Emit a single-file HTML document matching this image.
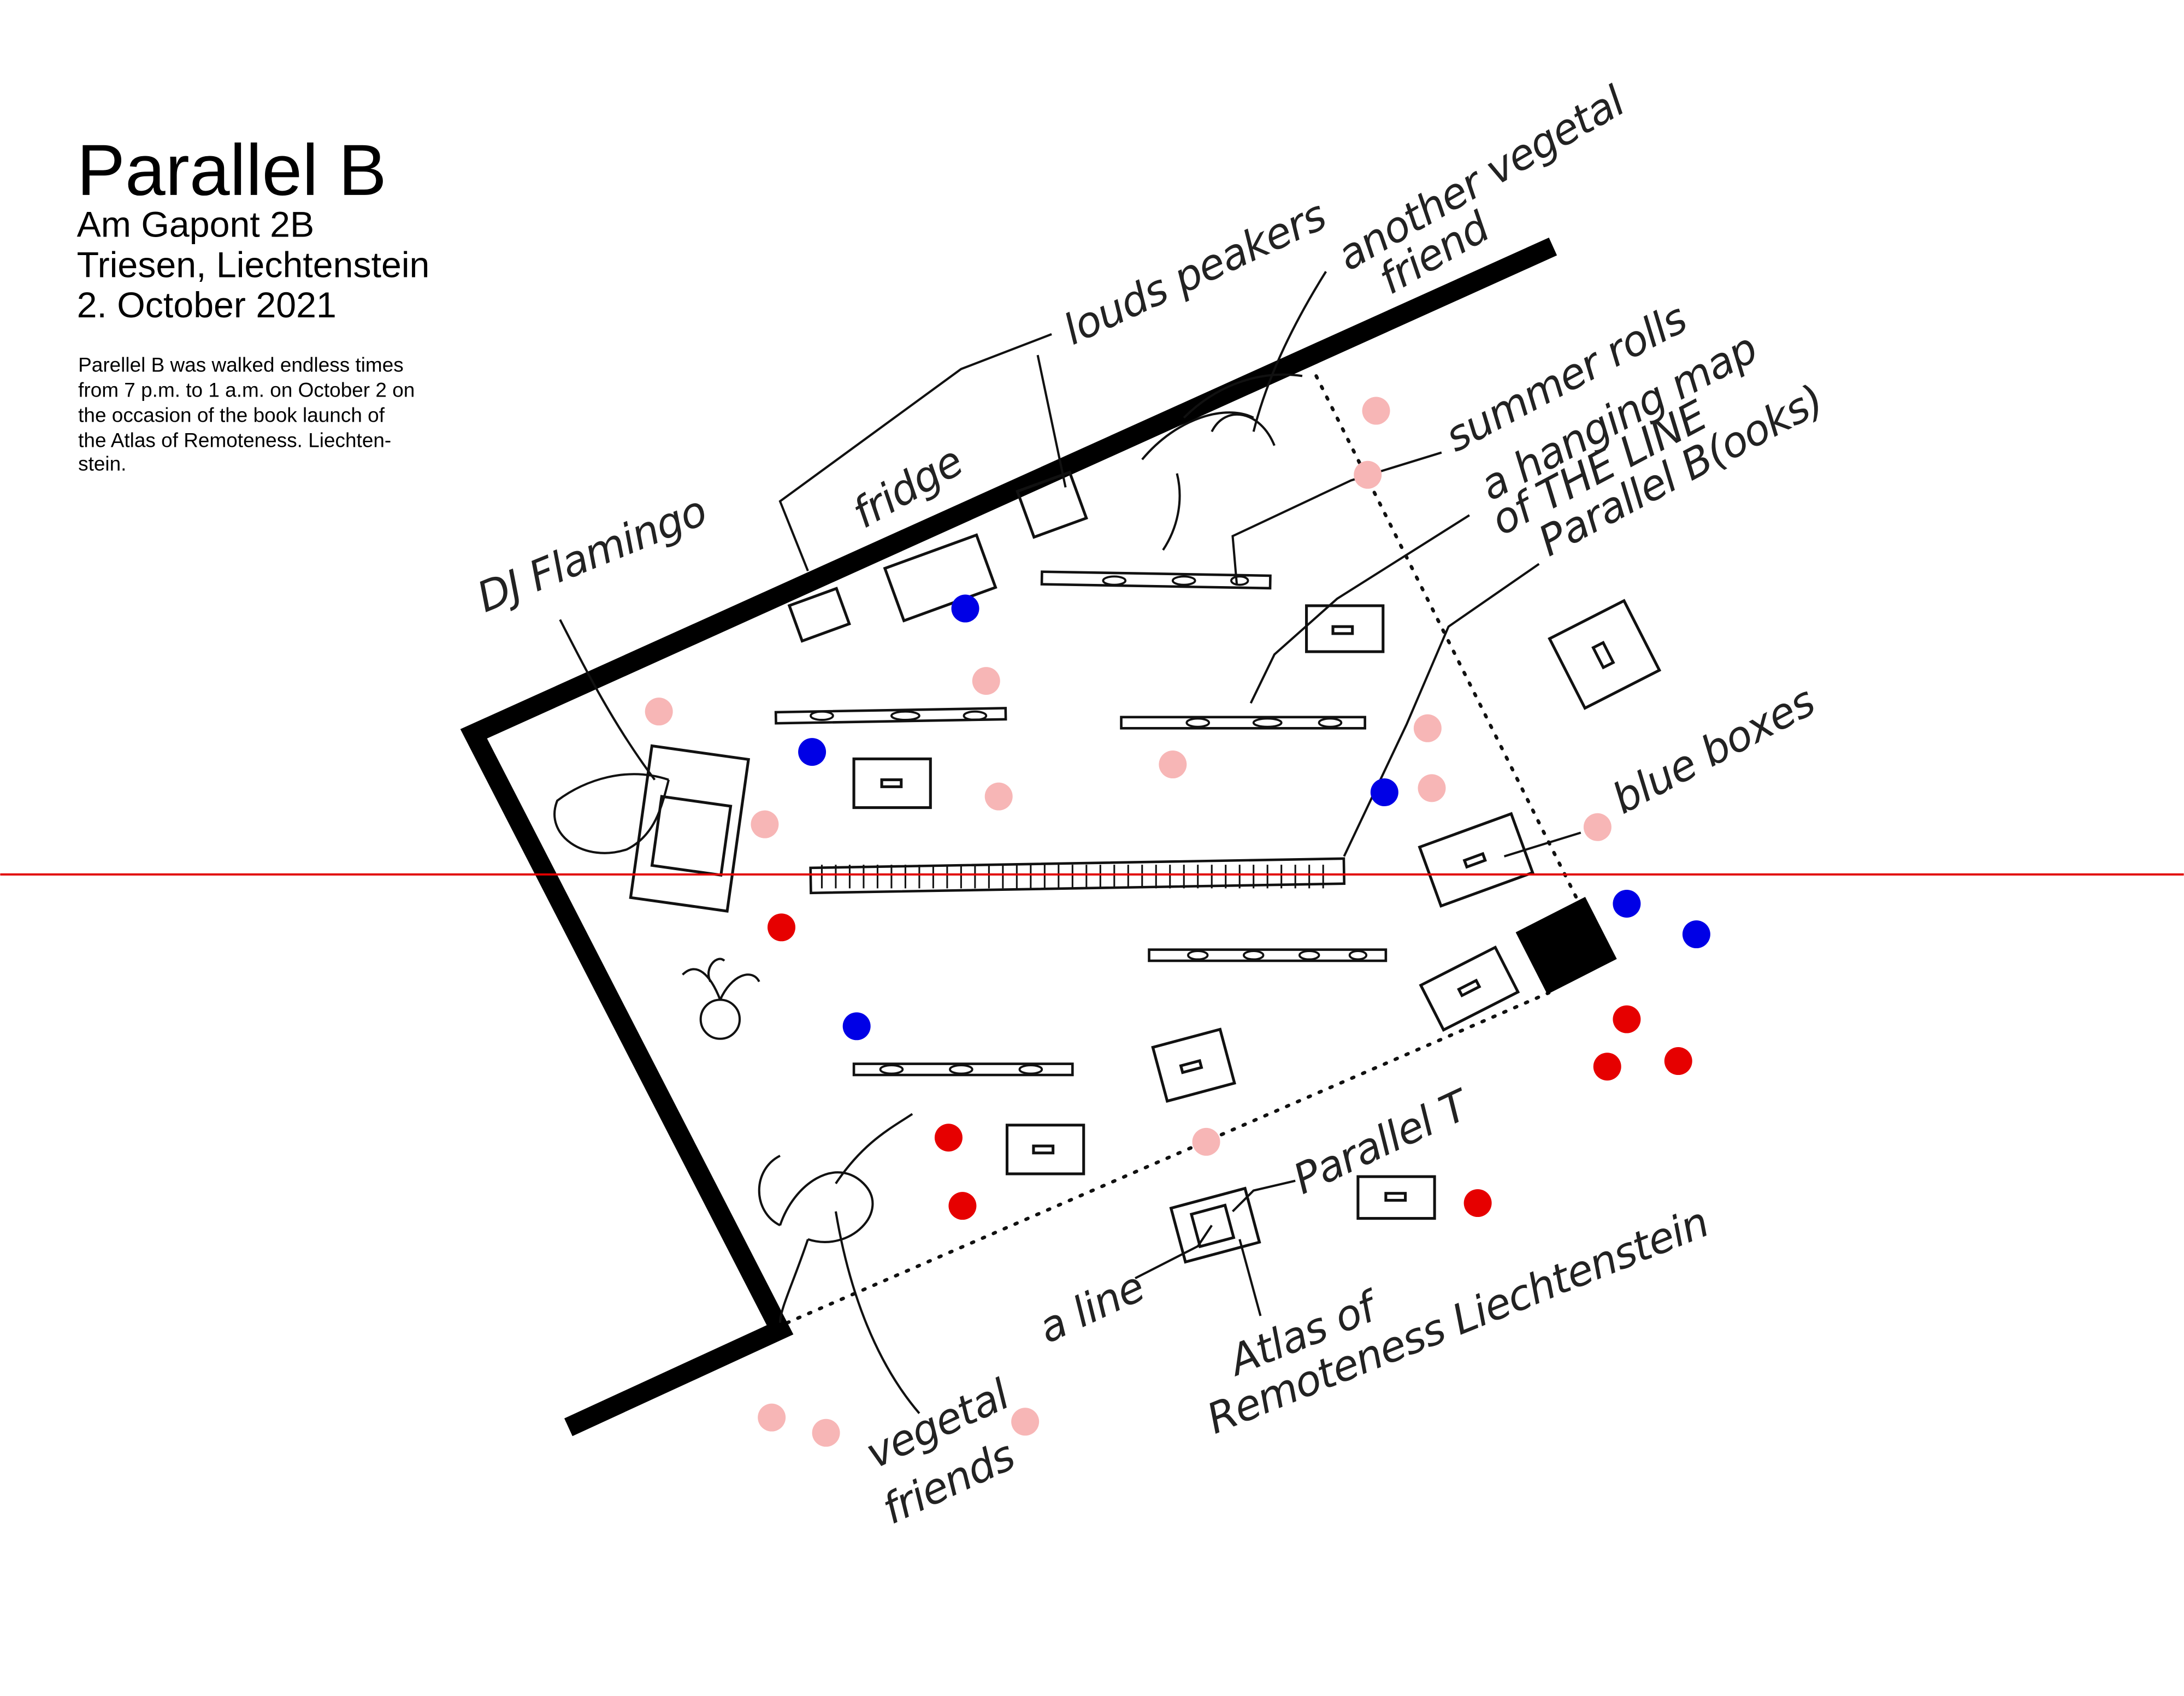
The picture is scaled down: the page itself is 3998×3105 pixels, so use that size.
<!DOCTYPE html>
<html><head><meta charset="utf-8"><style>
html,body{margin:0;padding:0;background:#fff;}
svg{display:block;}
.h{font-family:"DejaVu Sans","Liberation Sans",sans-serif;font-style:italic;fill:#222;font-size:30px;letter-spacing:-0.5px;}
</style></head><body>
<svg width="3998" height="3105" viewBox="0 0 1568 1218" xmlns="http://www.w3.org/2000/svg">
<rect width="1568" height="1218" fill="#fff"/>
<g font-family="Liberation Sans, sans-serif" fill="#000">
<text x="55" y="140" font-size="52">Parallel B</text>
<text x="55" y="170" font-size="26">Am Gapont 2B</text>
<text x="55" y="199" font-size="26">Triesen, Liechtenstein</text>
<text x="55" y="228" font-size="26">2. October 2021</text>
<g font-size="14.5">
<text x="56" y="267">Parellel B was walked endless times</text>
<text x="56" y="285">from 7 p.m. to 1 a.m. on October 2 on</text>
<text x="56" y="303">the occasion of the book launch of</text>
<text x="56" y="321">the Atlas of Remoteness. Liechten-</text>
<text x="56" y="338">stein.</text>
</g></g>

<g stroke="#111" stroke-width="2.5" stroke-dasharray="1.5 7" stroke-linecap="round" fill="none">
<line x1="945" y1="270" x2="1132" y2="645"/>
<line x1="565" y1="950" x2="1112" y2="713"/>
</g>

<polyline points="1115,177 340,527 560,955 408,1025" fill="none" stroke="#000" stroke-width="14" stroke-linejoin="miter"/>
<rect x="1097" y="654" width="56" height="50" fill="#000" transform="rotate(-27 1125 680)"/>

<g fill="none" stroke="#111" stroke-width="1.8">
<rect x="748" y="412" width="164" height="9" transform="rotate(1 830 416)"/>
<rect x="557" y="510" width="165" height="8" transform="rotate(-1 640 514)"/>
<rect x="805" y="515" width="175" height="8"/>
<rect x="582" y="620" width="383" height="18" transform="rotate(-1 770 630)"/>
<rect x="825" y="682" width="170" height="8"/>
<rect x="613" y="764" width="157" height="8"/>
</g>
<g stroke="#111" stroke-width="1.2">
<path d="M590 621 V638 M600 621 V638 M610 621 V638 M620 621 V638 M630 621 V638 M640 621 V638 M650 621 V638 M660 621 V638 M670 621 V638 M680 621 V638 M690 621 V638 M700 621 V638 M710 621 V638 M720 621 V638 M730 621 V638 M740 621 V638 M750 621 V638 M760 621 V638 M770 621 V638 M780 621 V638 M790 621 V638 M800 621 V638 M810 621 V638 M820 621 V638 M830 621 V638 M840 621 V638 M850 621 V638 M860 621 V638 M870 621 V638 M880 621 V638 M890 621 V638 M900 621 V638 M910 621 V638 M920 621 V638 M930 621 V638 M940 621 V638 M950 621 V638"/>
</g>
<g fill="none" stroke="#111" stroke-width="1.5">
<ellipse cx="800" cy="417" rx="8" ry="3"/><ellipse cx="850" cy="417" rx="8" ry="3"/><ellipse cx="890" cy="417" rx="6" ry="3"/>
<ellipse cx="590" cy="514" rx="8" ry="3"/><ellipse cx="650" cy="514" rx="10" ry="3"/><ellipse cx="700" cy="514" rx="8" ry="3"/>
<ellipse cx="860" cy="519" rx="8" ry="3"/><ellipse cx="910" cy="519" rx="10" ry="3"/><ellipse cx="955" cy="519" rx="8" ry="3"/>
<ellipse cx="860" cy="686" rx="7" ry="3"/><ellipse cx="900" cy="686" rx="7" ry="3"/><ellipse cx="940" cy="686" rx="7" ry="3"/><ellipse cx="975" cy="686" rx="6" ry="3"/>
<ellipse cx="640" cy="768" rx="8" ry="3"/><ellipse cx="690" cy="768" rx="8" ry="3"/><ellipse cx="740" cy="768" rx="8" ry="3"/>
</g>

<g fill="none" stroke="#111" stroke-width="2">
<rect x="613" y="545" width="55" height="35"/><rect x="633" y="560" width="14" height="5"/>
<rect x="938" y="435" width="55" height="33"/><rect x="957" y="450" width="14" height="5"/>
<g transform="rotate(-27 1152 470)"><rect x="1122" y="442" width="60" height="56"/><rect x="1147" y="462" width="8" height="16"/></g>
<g transform="rotate(-20 1060 618)"><rect x="1025" y="595" width="70" height="45"/><rect x="1052" y="615" width="14" height="5"/></g>
<g transform="rotate(-27 1055 710)"><rect x="1025" y="692" width="60" height="36"/><rect x="1048" y="707" width="14" height="5"/></g>
<g transform="rotate(-15 857 765)"><rect x="832" y="745" width="50" height="40"/><rect x="848" y="763" width="14" height="5"/></g>
<rect x="723" y="808" width="55" height="35"/><rect x="742" y="823" width="14" height="5"/>
<rect x="975" y="845" width="55" height="30"/><rect x="995" y="857" width="14" height="5"/>
<g transform="rotate(-15 872 880)"><rect x="845" y="860" width="55" height="40"/><rect x="858" y="868" width="25" height="24"/></g>
<rect x="570" y="428" width="36" height="27" transform="rotate(-20 588 441)"/>
<rect x="640" y="395" width="70" height="40" transform="rotate(-20 675 415)"/>
<rect x="735" y="345" width="40" height="35" transform="rotate(-20 755 362)"/>
<rect x="460" y="540" width="70" height="110" transform="rotate(8 495 595)"/>
<rect x="472" y="575" width="50" height="50" transform="rotate(8 495 595)"/>
</g>

<g fill="none" stroke="#111" stroke-width="1.6">
<polyline points="755,240 690,265 560,360 580,410"/>
<line x1="745" y1="255" x2="765" y2="350"/>
<path d="M952 195 C930 230 910 270 900 310"/>
<polyline points="1035,325 970,345 885,385 888,420"/>
<polyline points="1055,370 960,430 915,470 898,505"/>
<polyline points="1105,405 1040,450 1010,520 965,615"/>
<line x1="1135" y1="598" x2="1080" y2="615"/>
<path d="M402 445 C420 480 440 520 470 560"/>
<polyline points="815,918 860,895 870,880"/>
<polyline points="930,848 900,855 885,870"/>
<line x1="890" y1="890" x2="905" y2="945"/>
<path d="M600 870 C610 930 630 980 660 1015"/>
<path d="M820 330 C845 300 880 290 900 300 M850 300 C870 280 900 265 935 270 M870 310 C880 290 905 295 915 320 M845 340 C850 360 845 380 835 395"/>
<path d="M480 560 C450 550 420 560 400 575 C390 600 420 620 450 610 C470 600 475 580 480 560"/>
<circle cx="517" cy="732" r="14"/>
<path d="M517 718 C510 700 500 690 490 700 M517 718 C525 700 540 695 545 705 M510 705 C505 695 515 685 520 690"/>
<path d="M560 880 C570 850 600 830 620 850 C640 870 610 900 580 890 M560 880 C540 870 540 840 560 830 M600 850 C620 820 640 810 655 800 M580 890 C570 920 560 940 560 950"/>
</g>

<line x1="0" y1="628" x2="1568" y2="628" stroke="#e10000" stroke-width="1.5"/>

<g fill="#f7b6b6">
<circle cx="988" cy="295" r="10"/><circle cx="982" cy="341" r="10"/><circle cx="708" cy="489" r="10"/><circle cx="473" cy="511" r="10"/><circle cx="1025" cy="523" r="10"/><circle cx="842" cy="549" r="10"/><circle cx="717" cy="572" r="10"/><circle cx="1028" cy="566" r="10"/><circle cx="549" cy="592" r="10"/><circle cx="1147" cy="594" r="10"/><circle cx="866" cy="820" r="10"/><circle cx="554" cy="1018" r="10"/><circle cx="593" cy="1029" r="10"/><circle cx="736" cy="1021" r="10"/>
</g>
<g fill="#0000e6">
<circle cx="693" cy="437" r="10"/><circle cx="583" cy="540" r="10"/><circle cx="994" cy="569" r="10"/><circle cx="1168" cy="649" r="10"/><circle cx="1218" cy="671" r="10"/><circle cx="615" cy="737" r="10"/>
</g>
<g fill="#e60000">
<circle cx="561" cy="666" r="10"/><circle cx="1168" cy="732" r="10"/><circle cx="1154" cy="766" r="10"/><circle cx="1205" cy="762" r="10"/><circle cx="681" cy="817" r="10"/><circle cx="691" cy="866" r="10"/><circle cx="1061" cy="864" r="10"/>
</g>

<text class="h" transform="translate(770,248) rotate(-25)" font-size="34">louds peakers</text>
<text class="h" transform="translate(968,195) rotate(-30)" font-size="25">another vegetal</text>
<text class="h" transform="translate(998,212) rotate(-30)" font-size="25">friend</text>
<text class="h" transform="translate(348,440) rotate(-22)" font-size="28">DJ Flamingo</text>
<text class="h" transform="translate(620,380) rotate(-30)" font-size="27">fridge</text>
<text class="h" transform="translate(1045,325) rotate(-28)" font-size="26">summer rolls</text>
<text class="h" transform="translate(1070,360) rotate(-28)" font-size="26">a hanging map</text>
<text class="h" transform="translate(1078,385) rotate(-28)" font-size="25">of THE LINE</text>
<text class="h" transform="translate(1112,400) rotate(-28)" font-size="26">Parallel B(ooks)</text>
<text class="h" transform="translate(1165,585) rotate(-28)" font-size="32">blue boxes</text>
<text class="h" transform="translate(935,858) rotate(-25)" font-size="29">Parallel T</text>
<text class="h" transform="translate(752,965) rotate(-25)" font-size="27">a line</text>
<text class="h" transform="translate(888,988) rotate(-22)" font-size="22">Atlas of</text>
<text class="h" transform="translate(872,1030) rotate(-22)" font-size="22">Remoteness Liechtenstein</text>
<text class="h" transform="translate(628,1055) rotate(-25)" font-size="25">vegetal</text>
<text class="h" transform="translate(640,1095) rotate(-25)" font-size="25">friends</text>
</svg>
</body></html>
